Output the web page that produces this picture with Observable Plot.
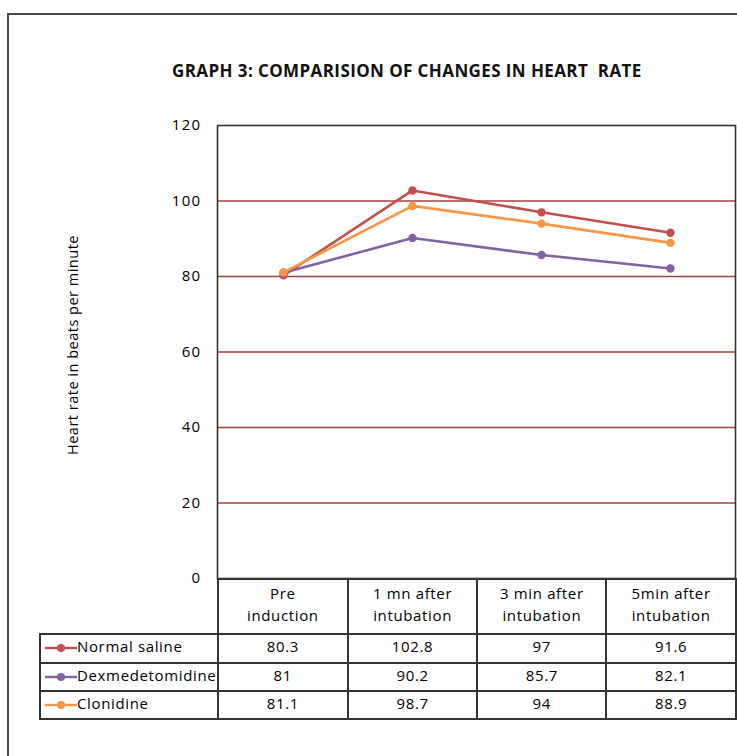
<!DOCTYPE html>
<html>
<head>
<meta charset="utf-8">
<script src="https://cdn.jsdelivr.net/npm/d3@7"></script>
<script src="https://cdn.jsdelivr.net/npm/@observablehq/plot@0.6"></script>
<style>
  html, body { margin: 0; padding: 0; background: #fff; }
  #page { position: relative; width: 737px; height: 756px; overflow: hidden; background: #fff; font-family: "Open Sans", Lato, sans-serif; color: #000; }
  #outer { position: absolute; left: 7px; top: 13px; width: 800px; height: 800px; border: 2px solid #4a4a4a; box-sizing: border-box; }
  #title { position: absolute; left: 172px; top: 59px; font-size: 17px; font-weight: bold; white-space: pre; color: #111; letter-spacing: 0.4px; }
  #ylabel { position: absolute; left: 72px; top: 345px; transform: translate(-50%, -50%) rotate(-90deg); font-size: 14.5px; white-space: nowrap; letter-spacing: 0.5px; }
  #chart { position: absolute; left: 0; top: 0; }
  #tbl { position: absolute; left: 39px; top: 578px; border-collapse: collapse; table-layout: fixed; font-size: 15px; letter-spacing: 0.65px; }
  #tbl td { border: 2px solid #333; text-align: center; padding: 0 0 5px 0; }
  #tbl td.blank { border: none; }
  #tbl td.name { text-align: left; white-space: nowrap; padding-left: 4px; }
  #tbl tr.head td { line-height: 22px; padding-bottom: 6px; }
</style>
</head>
<body>
<div id="page">
  <div id="outer"></div>
  <div id="title"></div>
  <div id="ylabel"></div>
  <div id="chart"></div>
  <table id="tbl"></table>
</div>
<script>
// ---- data ----
const categories = ["Pre induction", "1 mn after intubation", "3 min after intubation", "5min after intubation"];
const headerLines = [["Pre", "induction"], ["1 mn after", "intubation"], ["3 min after", "intubation"], ["5min after", "intubation"]];
const seriesNames = ["Normal saline", "Dexmedetomidine", "Clonidine"];
const normalSaline = [80.3, 102.8, 97, 91.6];
const dexmedetomidine = [81, 90.2, 85.7, 82.1];
const clonidine = [81.1, 98.7, 94, 88.9];
const seriesColors = ["#C0504D", "#8064A2", "#F79646"];
const yTicks = [0, 20, 40, 60, 80, 100, 120];
const gridValues = [20, 40, 60, 80, 100];
const titleText = "GRAPH 3: COMPARISION OF CHANGES IN HEART  RATE";
const yLabelText = "Heart rate in beats per minute";

const seriesValues = [normalSaline, dexmedetomidine, clonidine];
const rows = seriesNames.flatMap((s, i) => categories.map((c, j) => ({series: s, cat: c, value: seriesValues[i][j]})));

document.getElementById("title").textContent = titleText;
document.getElementById("ylabel").textContent = yLabelText;

const seriesMarks = seriesNames.flatMap(s => {
  const d = rows.filter(r => r.series === s);
  return [
    Plot.line(d, {x: "cat", y: "value", stroke: "series", strokeWidth: 2.6}),
    Plot.dot(d, {x: "cat", y: "value", fill: "series", r: 4.2})
  ];
});

const chart = Plot.plot({
  width: 737,
  height: 600,
  marginLeft: 217,
  marginRight: 2,
  marginTop: 125,
  marginBottom: 22,
  x: {type: "point", domain: categories, padding: 0.5, axis: null},
  y: {domain: [0, 120], ticks: yTicks, tickSize: 0, tickPadding: 16, label: null},
  color: {domain: seriesNames, range: seriesColors},
  style: {fontFamily: "'Open Sans', Lato, sans-serif", fontSize: "15px", color: "#000", background: "transparent", letterSpacing: "1.3px"},
  marks: [
    Plot.ruleY(gridValues, {stroke: "#A3403D", strokeWidth: 1.3}),
    Plot.frame({stroke: "#333", strokeWidth: 1.6}),
    ...seriesMarks
  ]
});
document.getElementById("chart").appendChild(chart);

// ---- data table ----
const tbl = document.getElementById("tbl");
const colWidths = [178, 130, 130, 129, 130];
const cg = document.createElement("colgroup");
colWidths.forEach(w => { const c = document.createElement("col"); c.style.width = w + "px"; cg.appendChild(c); });
tbl.appendChild(cg);
const head = document.createElement("tr");
head.className = "head";
head.style.height = "55px";
const blank = document.createElement("td"); blank.className = "blank"; head.appendChild(blank);
headerLines.forEach(lines => {
  const td = document.createElement("td");
  td.innerHTML = lines.join("<br>");
  head.appendChild(td);
});
tbl.appendChild(head);
const rowHeights = [29, 28, 28];
seriesNames.forEach((s, i) => {
  const tr = document.createElement("tr");
  tr.style.height = rowHeights[i] + "px";
  const nameTd = document.createElement("td");
  nameTd.className = "name";
  const col = seriesColors[i];
  nameTd.innerHTML = `<svg width="32" height="10" style="vertical-align:-1px"><line x1="0" y1="5" x2="32" y2="5" stroke="${col}" stroke-width="2.4"/><circle cx="16" cy="5" r="4" fill="${col}"/></svg>`;
  nameTd.appendChild(document.createTextNode(s));
  tr.appendChild(nameTd);
  seriesValues[i].forEach(v => {
    const td = document.createElement("td");
    td.textContent = v;
    tr.appendChild(td);
  });
  tbl.appendChild(tr);
});
</script>
</body>
</html>
